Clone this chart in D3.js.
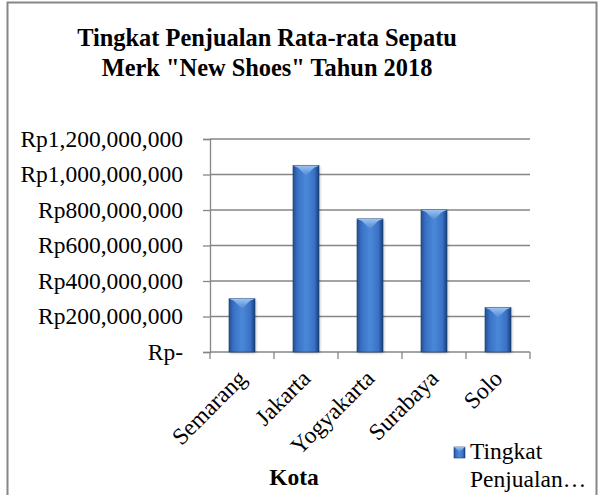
<!DOCTYPE html>
<html>
<head>
<meta charset="utf-8">
<script src="https://cdn.jsdelivr.net/npm/d3@7"></script>
<style>
  html, body { margin: 0; padding: 0; background: #fff; }
  svg { display: block; }
</style>
</head>
<body>
<svg id="chart" width="599" height="495"></svg>
<script>
// Average shoe sales per city, 2018
const cities = ["Semarang", "Jakarta", "Yogyakarta", "Surabaya", "Solo"];
const sales = [300000000, 1050000000, 750000000, 800000000, 250000000];
const yTicks = [0, 200000000, 400000000, 600000000, 800000000, 1000000000, 1200000000];
const titleLines = ["Tingkat Penjualan Rata-rata Sepatu", "Merk \"New Shoes\" Tahun 2018"];
const seriesName = ["Tingkat", "Penjualan…"];

const SERIF = "'Liberation Serif', 'Times New Roman', serif";
const FS = "23.5px";
const svg = d3.select("#chart");
const plot = { left: 210, right: 530, top: 139, bottom: 352 };

// outer frame
svg.append("rect")
  .attr("x", 7.5).attr("y", 2.5)
  .attr("width", 589).attr("height", 500)
  .attr("fill", "#fff").attr("stroke", "#868686").attr("stroke-width", 2);

// gradients for the bars
const defs = svg.append("defs");
const g1 = defs.append("linearGradient").attr("id", "barGrad").attr("x1", 0).attr("x2", 1).attr("y1", 0).attr("y2", 0);
[["0%", "#1f4f93"], ["18%", "#3a72c4"], ["50%", "#4b88d8"], ["82%", "#3a72c4"], ["100%", "#173f7a"]]
  .forEach(([o, c]) => g1.append("stop").attr("offset", o).attr("stop-color", c));
const g2 = defs.append("linearGradient").attr("id", "capGrad").attr("x1", 0).attr("x2", 0).attr("y1", 0).attr("y2", 1);
[["0%", "#9cc3f0"], ["100%", "#4d88d6"]]
  .forEach(([o, c]) => g2.append("stop").attr("offset", o).attr("stop-color", c));
const shadow = defs.append("filter").attr("id", "soft").attr("x", "-30%").attr("y", "-10%").attr("width", "160%").attr("height", "120%");
shadow.append("feGaussianBlur").attr("stdDeviation", 1.6);

const x = d3.scaleBand().domain(cities).range([plot.left, plot.right]).paddingInner(0.594).paddingOuter(0.297);
const y = d3.scaleLinear().domain([0, 1200000000]).range([plot.bottom, plot.top]);

// horizontal gridlines
svg.append("g").selectAll("line").data(yTicks.slice(1)).join("line")
  .attr("x1", plot.left).attr("x2", plot.right)
  .attr("y1", d => y(d)).attr("y2", d => y(d))
  .attr("stroke", "#868686").attr("stroke-width", 1.3);

// y axis
const fmt = v => v === 0 ? "Rp-" : "Rp" + d3.format(",")(v);
const yAxis = svg.append("g").attr("transform", `translate(${plot.left},0)`)
  .call(d3.axisLeft(y).tickValues(yTicks).tickFormat(fmt).tickSize(7).tickPadding(20));
yAxis.select(".domain").attr("stroke", "#868686").attr("stroke-width", 1.3);
yAxis.selectAll(".tick line").attr("stroke", "#868686").attr("stroke-width", 1.3);
yAxis.selectAll("text").style("font-family", SERIF).style("font-size", FS).attr("fill", "#000").attr("dy", "0.3em");

// x axis with boundary ticks between categories
const xAxisG = svg.append("g");
xAxisG.append("line").attr("x1", plot.left).attr("x2", plot.right)
  .attr("y1", plot.bottom).attr("y2", plot.bottom)
  .attr("stroke", "#868686").attr("stroke-width", 1.3);
const bounds = [plot.left].concat(cities.map(c => x(c) + x.bandwidth() + x.step() * x.paddingInner() / 2));
bounds[bounds.length - 1] = plot.right;
xAxisG.selectAll("line.t").data(bounds).join("line").attr("class", "t")
  .attr("x1", d => d).attr("x2", d => d)
  .attr("y1", plot.bottom).attr("y2", plot.bottom + 7)
  .attr("stroke", "#868686").attr("stroke-width", 1.3);

// category labels rotated
svg.append("g").selectAll("text").data(cities).join("text")
  .attr("transform", c => `translate(${x(c) + x.bandwidth() / 2},${plot.bottom + 22}) rotate(-45)`)
  .attr("text-anchor", "end").attr("dy", "0.35em")
  .style("font-family", SERIF).style("font-size", FS).text(d => d);

// bars
const bars = svg.append("g");
const bw = x.bandwidth();
cities.forEach((c, i) => {
  const x0 = x(c), top = y(sales[i]), h = plot.bottom - top;
  const capH = Math.min(10, h / 2);
  bars.append("rect").attr("x", x0 + 1).attr("y", top + 1).attr("width", bw).attr("height", h)
    .attr("fill", "#000").attr("opacity", 0.25).attr("filter", "url(#soft)");
  bars.append("rect").attr("x", x0).attr("y", top).attr("width", bw).attr("height", h)
    .attr("fill", "url(#barGrad)").attr("stroke", "#1a3f75").attr("stroke-width", 0.6);
  bars.append("path")
    .attr("d", `M${x0},${top}L${x0 + bw},${top}L${x0 + bw - 5},${top + 2}L${x0 + bw / 2},${top + capH}L${x0 + 5},${top + 2}Z`)
    .attr("fill", "url(#capGrad)");
});

// title
titleLines.forEach((t, i) => svg.append("text").attr("x", 267).attr("y", 46 + i * 30).attr("text-anchor", "middle")
  .style("font-family", SERIF).style("font-size", "24.4px").style("font-weight", "bold").text(t));

// axis title
svg.append("text").attr("x", 294).attr("y", 485).attr("text-anchor", "middle")
  .style("font-family", SERIF).style("font-size", FS).style("font-weight", "bold").text("Kota");

// legend
const lg = svg.append("g");
lg.append("rect").attr("x", 454).attr("y", 447).attr("width", 11).attr("height", 11)
  .attr("fill", "url(#barGrad)").attr("stroke", "#1a3f75").attr("stroke-width", 0.6);
lg.append("path").attr("d", "M454,447L465,447L459.5,452Z").attr("fill", "url(#capGrad)");
seriesName.forEach((t, i) => lg.append("text").attr("x", 470).attr("y", 459 + i * 28)
  .style("font-family", SERIF).style("font-size", FS).text(t));
</script>
</body>
</html>
